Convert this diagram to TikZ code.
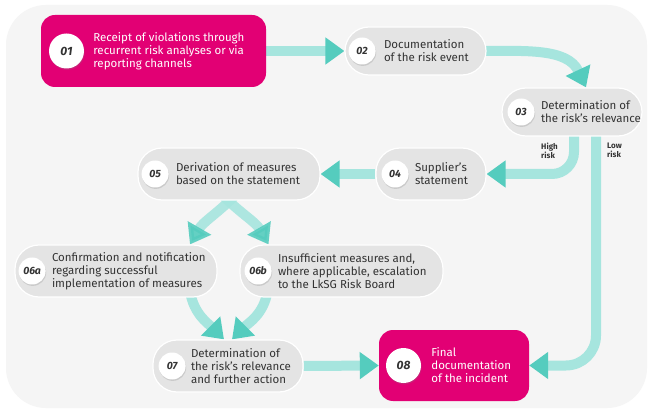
\documentclass[tikz,border=0pt]{standalone}
\usepackage{fontspec}
\setmainfont{Fira Sans}
\usetikzlibrary{positioning,arrows.meta,shadows,backgrounds}
\definecolor{tmagenta}{HTML}{E20074}
\definecolor{pillgray}{HTML}{E4E4E4}
\definecolor{bggray}{HTML}{F5F5F5}
\definecolor{arrowlight}{HTML}{A6E5DE}
\definecolor{arrowdark}{HTML}{55CCBE}
\definecolor{txtgray}{HTML}{333333}

\begin{document}
\begin{tikzpicture}[x=1pt, y=1pt,
    pill/.style={draw=white, line width=1.2pt, fill=pillgray, rounded corners=24pt, inner sep=0pt},
    hotbox/.style={fill=tmagenta, rounded corners=14pt, inner sep=0pt},
    num/.style={circle, fill=white, inner sep=0pt, minimum size=27pt, text=txtgray,
        font=\fontsize{10.5}{12}\selectfont\bfseries\itshape,
        drop shadow={shadow xshift=0.6pt, shadow yshift=-1.4pt, opacity=0.25}},
    bignum/.style={num, minimum size=35pt, font=\fontsize{12}{14}\selectfont\bfseries\itshape},
    txt/.style={align=left, inner sep=0pt, text=txtgray, font=\fontsize{11.5}{13}\selectfont},
    risk/.style={align=left, inner sep=0pt, text=txtgray, font=\fontsize{8}{9}\selectfont\bfseries},
    flow/.style={line width=10pt, draw=arrowlight,
        -{Triangle[length=19pt, width=26pt, color=arrowdark, fill=arrowdark]}}]
    \useasboundingbox (0,0) rectangle (648,410);
    % Background panel
    \begin{scope}[on background layer]
        \fill[white] (0,0) rectangle (648,410);
        \fill[bggray, rounded corners=40pt] (6,2) rectangle (647,405);
    \end{scope}

    % 01 receipt of violations
    \node[hotbox, minimum width=225pt, minimum height=72pt] (n01) at (153.5,359) {};
    \node[bignum, right=8pt of n01.west] (c01) {01};
    \node[txt, text=white, right=9pt of c01] (t01) {Receipt of violations through\\recurrent risk analyses or via\\reporting channels};

    % 02 documentation
    \node[pill, minimum width=141pt, minimum height=48pt] (n02) at (415.5,359) {};
    \node[num, right=4pt of n02.west] (c02) {02};
    \node[txt, right=8pt of c02] (t02) {Documentation\\of the risk event};

    % 03 relevance
    \node[pill, minimum width=140pt, minimum height=48pt] (n03) at (572,298) {};
    \node[num, right=6pt of n03.west] (c03) {03};
    \node[txt, right=6pt of c03] (t03) {Determination of\\the risk’s relevance};

    % 04 supplier
    \node[pill, minimum width=110pt, minimum height=52pt] (n04) at (431,236) {};
    \node[num, right=6pt of n04.west] (c04) {04};
    \node[txt, right=6pt of c04] (t04) {Supplier’s\\statement};

    % 05 measures
    \node[pill, minimum width=182pt, minimum height=52pt] (n05) at (229,236) {};
    \node[num, right=4pt of n05.west] (c05) {05};
    \node[txt, right=7pt of c05] (t05) {Derivation of measures\\based on the statement};

    % 06a / 06b
    \node[pill, minimum width=202pt, minimum height=52pt] (n06a) at (116,139) {};
    \node[num, right=4pt of n06a.west] (c06a) {06\kern-0.5pt a};
    \node[txt, right=6pt of c06a] (t06a) {Confirmation and notification\\regarding successful\\implementation of measures};

    \node[pill, minimum width=203pt, minimum height=52pt] (n06b) at (341.5,139) {};
    \node[num, right=5pt of n06b.west] (c06b) {06\kern-0.5pt b};
    \node[txt, right=6pt of c06b] (t06b) {Insufficient measures and,\\where applicable, escalation\\to the LkSG Risk Board};

    % 07 further action
    \node[pill, minimum width=150pt, minimum height=52pt] (n07) at (228,44) {};
    \node[num, right=6pt of n07.west] (c07) {07};
    \node[txt, right=5pt of c07] (t07) {Determination of\\the risk’s relevance\\and further action};

    % 08 final documentation
    \node[hotbox, minimum width=150pt, minimum height=71pt] (n08) at (454,44.5) {};
    \node[bignum, right=7pt of n08.west] (c08) {08};
    \node[txt, text=white, right=10pt of c08] (t08) {Final\\documentation\\of the incident};

    % Risk labels
    \node[risk, anchor=north west] (lhigh) at (541,267) {High\\risk};
    \node[risk, anchor=north west] (llow) at (607,267) {Low\\risk};

    % Flow arrows (behind the boxes)
    \begin{scope}[on background layer]
        \draw[flow] (n01.east) -- (n02.west);
        \draw[flow] ([xshift=-6pt]n02.east) to[out=0, in=115] ([xshift=14pt]n03.north);
        \draw[flow, rounded corners=22pt] ([xshift=2pt, yshift=6pt]n03.south) |- (n04.east);
        \draw[flow, rounded corners=30pt] ([xshift=24pt, yshift=6pt]n03.south) |- (n08.east);
        \draw[flow] (n04.west) -- (n05.east);
        \draw[flow, opacity=0.9] ([xshift=6pt, yshift=5pt]n05.south) to[out=225, in=60] ([xshift=74pt]n06a.north);
        \draw[flow, opacity=0.9] ([xshift=-6pt, yshift=5pt]n05.south) to[out=-45, in=120] ([xshift=-73pt]n06b.north);
        \draw[flow] ([xshift=74pt, yshift=6pt]n06a.south) to[out=-80, in=135] ([xshift=-4pt]n07.north);
        \draw[flow] ([xshift=-74pt, yshift=6pt]n06b.south) to[out=-100, in=45] ([xshift=4pt]n07.north);
        \draw[flow] (n07.east) -- (n08.west);
    \end{scope}
\end{tikzpicture}
\end{document}
